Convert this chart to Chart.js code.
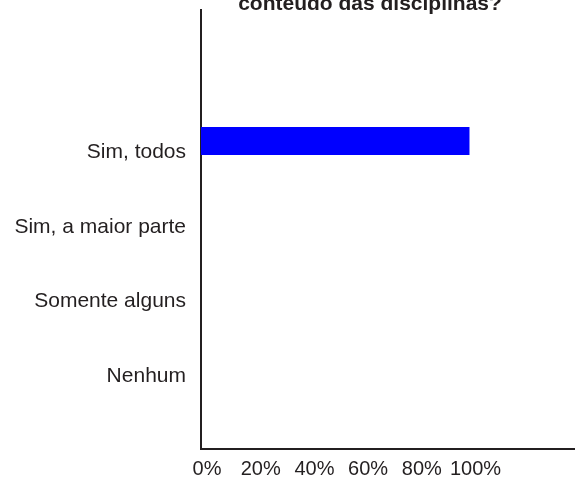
<!DOCTYPE html>
<html>
<head>
<meta charset="utf-8">
<script src="https://cdn.jsdelivr.net/npm/chart.js@4/dist/chart.umd.min.js"></script>
<style>
    html, body { margin: 0; padding: 0; background: #ffffff; }
    canvas { display: block; }
</style>
</head>
<body>
<canvas id="chart" width="575" height="481"></canvas>
<script>
const categories = ['Sim, todos', 'Sim, a maior parte', 'Somente alguns', 'Nenhum'];
const values = [100, 0, 0, 0];
const xTicks = [0, 20, 40, 60, 80, 100];
const titleLine = 'conteúdo das disciplinas?';

const FONT = "'Liberation Sans', Arial, sans-serif";
const INK = '#231f20';

// title sits partly above the canvas, like in the source image
const titlePlugin = {
    id: 'cutTitle',
    afterDraw(chart) {
        const ctx = chart.ctx;
        ctx.save();
        ctx.font = `bold 21px ${FONT}`;
        ctx.fillStyle = INK;
        ctx.textAlign = 'center';
        ctx.textBaseline = 'alphabetic';
        ctx.fillText(titleLine, 370, 10);
        ctx.restore();
    }
};

new Chart(document.getElementById('chart').getContext('2d'), {
    type: 'bar',
    data: {
        datasets: [{
            data: categories.map((c, i) => ({ y: i + 1, x: values[i] })),
            backgroundColor: '#0000ff',
            borderWidth: 0,
            categoryPercentage: 1,
            barPercentage: 0.375
        }]
    },
    options: {
        indexAxis: 'y',
        responsive: false,
        animation: false,
        layout: { padding: { top: 10, left: 0, right: 0, bottom: 0 } },
        plugins: {
            legend: { display: false },
            tooltip: { enabled: false }
        },
        scales: {
            x: {
                type: 'linear',
                min: 0,
                max: 139.3,
                afterBuildTicks(scale) {
                    scale.ticks = xTicks.map((v) => ({ value: v }));
                },
                afterFit(scale) {
                    scale.height = 32;
                    scale.paddingLeft = 0;
                    scale.paddingRight = 0;
                },
                grid: { display: false, drawTicks: false },
                border: { display: true, color: INK, width: 2 },
                ticks: {
                    autoSkip: false,
                    maxRotation: 0,
                    padding: 8,
                    labelOffset: 6,
                    color: INK,
                    font: { family: FONT, size: 20 },
                    callback: (v) => v + '%'
                }
            },
            y: {
                type: 'linear',
                reverse: true,
                offset: false,
                min: -0.75,
                max: 5.115,
                afterBuildTicks(scale) {
                    scale.ticks = categories.map((c, i) => ({ value: i + 1 }));
                },
                afterFit(scale) {
                    scale.width = 201;
                    scale.paddingTop = 0;
                    scale.paddingBottom = 0;
                },
                grid: { display: false, drawTicks: false, offset: false },
                border: { display: true, color: INK, width: 2 },
                ticks: {
                    autoSkip: false,
                    padding: 15,
                    labelOffset: 11,
                    color: INK,
                    font: { family: FONT, size: 21 },
                    callback: (v) => categories[v - 1]
                }
            }
        }
    },
    plugins: [titlePlugin]
});
</script>
</body>
</html>
